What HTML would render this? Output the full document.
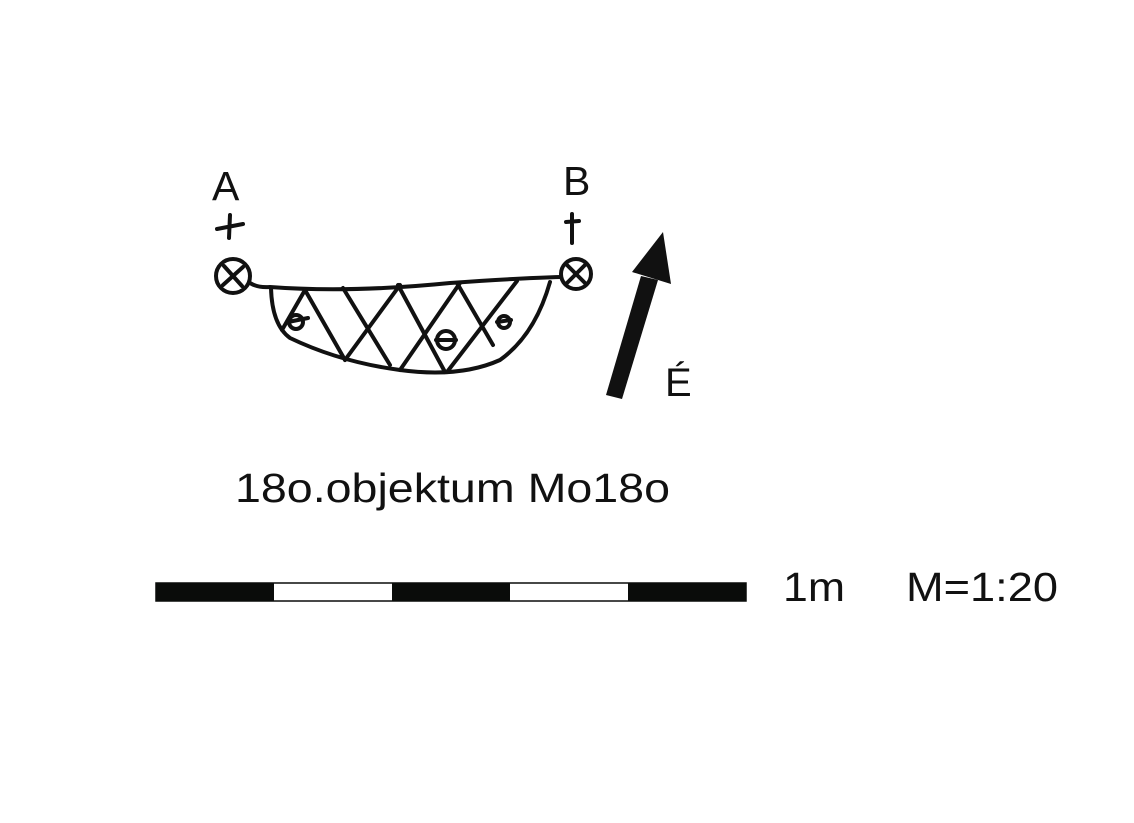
<!DOCTYPE html>
<html><head><style>
body{margin:0;background:#fff;width:1134px;height:823px;overflow:hidden}
</style></head><body>
<svg width="1134" height="823" xmlns="http://www.w3.org/2000/svg" style="position:absolute;left:0;top:0">
<g fill="none" stroke="#111" stroke-width="4" stroke-linecap="round" stroke-linejoin="round">
<circle cx="233" cy="276" r="17"/>
<line x1="224" y1="266" x2="242" y2="286"/><line x1="243" y1="267" x2="223" y2="285"/>
<circle cx="576" cy="274" r="15"/>
<line x1="567" y1="265" x2="585" y2="283"/><line x1="585" y1="265" x2="567" y2="283"/>
<path d="M217 229 L243 224 M230 215 L229 238"/>
<path d="M572 214 L572 243 M566 222 L579 221"/>
<path d="M250 283 Q258 288 270 287 Q350 293 450 283 Q520 278 561 277"/>
<path d="M271 288 Q272 325 290 338 Q340 362 400 370 Q460 378 500 360 Q535 335 550 282"/>
<path d="M305 290 L345 360 M343 288 L390 365 M398 285 L445 372 M457 283 L493 345"/>
<path d="M282 330 L305 290 M345 360 L400 285 M400 370 L460 283 M447 372 L517 281"/>
<circle cx="296" cy="322" r="7"/><line x1="288" y1="322" x2="308" y2="318"/>
<circle cx="446" cy="340" r="9"/><line x1="436" y1="340" x2="456" y2="340"/>
<circle cx="504" cy="322" r="6"/><line x1="497" y1="322" x2="511" y2="320"/>
</g>
<polygon points="606,395 622,399 658,280 641,276" fill="#111"/>
<polygon points="632,272 663,232 671,284" fill="#111"/>
<g font-family="Liberation Sans, sans-serif" fill="#111">
<text x="212" y="200" font-size="41">A</text>
<text x="563" y="195" font-size="41">B</text>
<text x="665" y="396" font-size="40">É</text>
<text x="235" y="502" font-size="41" textLength="435" lengthAdjust="spacingAndGlyphs">18o.objektum Mo18o</text>
<text x="783" y="601" font-size="41" textLength="62" lengthAdjust="spacingAndGlyphs">1m</text>
<text x="906" y="601" font-size="41" textLength="152" lengthAdjust="spacingAndGlyphs">M=1:20</text>
</g>
<rect x="156" y="583" width="590" height="18" fill="#fff" stroke="#0a0c0a" stroke-width="1.5"/>
<rect x="156" y="583" width="118" height="18" fill="#0a0c0a"/>
<rect x="392" y="583" width="118" height="18" fill="#0a0c0a"/>
<rect x="628" y="583" width="118" height="18" fill="#0a0c0a"/>
</svg>
</body></html>
